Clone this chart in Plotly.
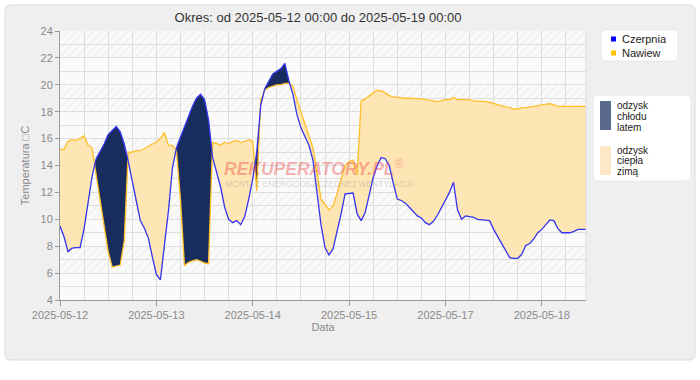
import plotly.graph_objects as go

# ---------------- data ----------------
tick_labels = ["2025-05-12", "2025-05-13", "2025-05-14", "2025-05-15", "2025-05-17", "2025-05-18"]
tick_index = [0, 24, 48, 72, 96, 120]

czerpnia = [
    9.5, 8.7, 7.6, 7.85, 7.9, 7.9, 9.3, 11.2, 13.2, 14.5,
    15.0, 15.6, 16.3, 16.6, 16.9, 16.5, 15.6, 14.3, 12.8, 11.2,
    9.9, 9.35, 8.6, 7.2, 5.9, 5.5, 8.1, 10.6, 13.8, 15.3,
    16.1, 16.9, 17.7, 18.4, 19.0, 19.3, 18.9, 17.4, 14.6, 13.5,
    12.4, 10.9, 10.0, 9.75, 9.9, 9.6, 10.2, 11.5, 13.0, 15.0,
    18.5, 19.7, 20.3, 20.8, 21.0, 21.2, 21.6, 20.3, 19.3, 17.8,
    16.8, 16.2, 15.5, 14.4, 12.0, 9.6, 7.9, 7.35, 7.8, 9.0,
    10.4, 11.9, 11.95, 11.95, 10.4, 9.9, 10.5, 11.8, 13.1, 14.0,
    14.6, 14.5, 14.0, 12.7, 11.5, 11.4, 11.2, 10.9, 10.55, 10.25,
    10.1, 9.75, 9.6, 9.85, 10.3, 10.9, 11.4, 12.0, 12.75, 10.7,
    10.0, 10.25, 10.2, 10.15, 10.0, 9.95, 9.95, 9.9, 9.25, 8.7,
    8.2, 7.6, 7.15, 7.1, 7.1, 7.4, 8.05, 8.2, 8.55, 9.0,
    9.25, 9.6, 9.95, 9.9, 9.3, 9.0, 9.0, 9.0, 9.1, 9.25,
    9.25, 9.25,
]

nawiew = [
    15.2, 15.2, 15.8, 15.9, 15.85, 16.0, 16.2, 15.5, 15.3, 13.3,
    11.5, 9.5, 7.6, 6.45, 6.5, 6.6, 8.4, 15.0, 15.0, 15.1,
    15.1, 15.25, 15.45, 15.6, 15.75, 16.0, 16.45, 15.5, 15.5, 15.1,
    11.5, 6.55, 6.8, 6.9, 7.0, 6.9, 6.75, 6.7, 15.7, 15.65,
    15.5, 15.75, 15.6, 15.8, 15.85, 15.7, 15.8, 15.9, 15.8, 12.1,
    18.9, 19.6, 19.8, 19.9, 20.0, 20.0, 20.1, 20.1, 19.9, 18.9,
    18.0, 17.1, 16.3, 15.3, 13.5, 11.5, 11.1, 10.7, 11.0, 11.9,
    13.0, 14.0, 14.3, 14.4, 13.3, 18.8, 18.95, 19.2, 19.4, 19.6,
    19.55, 19.4, 19.2, 19.1, 19.05, 19.0, 19.0, 19.0, 19.0, 19.0,
    18.95, 18.9, 18.85, 18.85, 18.75, 18.8, 18.9, 18.9, 19.05, 18.9,
    18.9, 18.9, 18.9, 18.8, 18.8, 18.8, 18.75, 18.7, 18.6, 18.5,
    18.4, 18.35, 18.3, 18.2, 18.2, 18.3, 18.3, 18.35, 18.35, 18.45,
    18.5, 18.55, 18.6, 18.5, 18.4, 18.4, 18.4, 18.4, 18.4, 18.4,
    18.4, 18.4,
]

x = list(range(len(czerpnia)))
Y_MIN, Y_MAX = 4, 24
X_MAX = x[-1]

# ---------------- layout geometry ----------------
W_FIG, H_FIG = 700, 380
L, R, T, B = 60, 114, 31, 80
PW, PH = W_FIG - L - R, H_FIG - T - B

def PX(px):
    return (px - L) / PW

def PY(py):
    return (T + PH - py) / PH

def rrect(x0, y0, x1, y1, r):
    return (f"M {PX(x0+r)},{PY(y0)} L {PX(x1-r)},{PY(y0)} Q {PX(x1)},{PY(y0)} {PX(x1)},{PY(y0+r)} "
            f"L {PX(x1)},{PY(y1-r)} Q {PX(x1)},{PY(y1)} {PX(x1-r)},{PY(y1)} "
            f"L {PX(x0+r)},{PY(y1)} Q {PX(x0)},{PY(y1)} {PX(x0)},{PY(y1-r)} "
            f"L {PX(x0)},{PY(y0+r)} Q {PX(x0)},{PY(y0)} {PX(x0+r)},{PY(y0)} Z")

# ---------------- crossings for two-colour fill ----------------
def with_crossings(xv, a, b):
    xs, aa, bb = [xv[0]], [a[0]], [b[0]]
    for k in range(1, len(xv)):
        d0 = a[k-1] - b[k-1]
        d1 = a[k] - b[k]
        if d0 * d1 < 0:
            t = d0 / (d0 - d1)
            xc = xv[k-1] + t * (xv[k] - xv[k-1])
            yc = a[k-1] + t * (a[k] - a[k-1])
            xs.append(xc); aa.append(yc); bb.append(yc)
        xs.append(xv[k]); aa.append(a[k]); bb.append(b[k])
    return xs, aa, bb

xc, cz_c, nw_c = with_crossings(x, czerpnia, nawiew)
lo = [min(p, q) for p, q in zip(cz_c, nw_c)]

BLUE = "#3434ee"
ORANGE = "#ffbf2a"
NAVY = "#182c5e"
PEACH = "#fde5b4"
FONT = "Liberation Sans, Arial, sans-serif"

fig = go.Figure()

# hatched background bands (every other 2-degree band)
bx, by = [], []
for y0 in range(Y_MAX - 2, Y_MIN, -4):
    bx += [0, X_MAX, X_MAX, 0, 0, None]
    by += [y0, y0, y0 + 2, y0 + 2, y0, None]
fig.add_trace(go.Scatter(
    x=bx, y=by, mode="none", fill="toself", showlegend=False, hoverinfo="skip",
    fillcolor="rgba(0,0,0,0)",
    fillpattern=dict(shape="/", fgcolor="#e3e3e3", bgcolor="rgba(0,0,0,0)", size=6, solidity=0.2),
))

# orange fill: nawiew above czerpnia
fig.add_trace(go.Scatter(x=xc, y=lo, mode="lines", line=dict(width=0), showlegend=False, hoverinfo="skip"))
fig.add_trace(go.Scatter(x=xc, y=nw_c, mode="lines", line=dict(width=0), fill="tonexty",
                         fillcolor=PEACH, showlegend=False, hoverinfo="skip"))
# navy fill: czerpnia above nawiew
fig.add_trace(go.Scatter(x=xc, y=lo, mode="lines", line=dict(width=0), showlegend=False, hoverinfo="skip"))
fig.add_trace(go.Scatter(x=xc, y=cz_c, mode="lines", line=dict(width=0), fill="tonexty",
                         fillcolor=NAVY, showlegend=False, hoverinfo="skip"))

# lines
fig.add_trace(go.Scatter(x=x, y=nawiew, mode="lines", name="Nawiew",
                         line=dict(color=ORANGE, width=1.3), showlegend=False))
fig.add_trace(go.Scatter(x=x, y=czerpnia, mode="lines", name="Czerpnia",
                         line=dict(color=BLUE, width=1.3), showlegend=False))

shapes = [
    dict(type="path", xref="paper", yref="paper", path=rrect(5, 5, 695, 360, 6),
         fillcolor="#efefef", line=dict(color="#dadada", width=1), layer="below"),
    dict(type="rect", xref="paper", yref="paper", x0=0, x1=1, y0=0, y1=1,
         fillcolor="#fafafa", line=dict(width=0), layer="below"),
    dict(type="line", xref="paper", yref="paper", x0=1, x1=1, y0=0, y1=1,
         line=dict(color="#dcdcdc", width=1)),
    # legend boxes
    dict(type="path", xref="paper", yref="paper", path=rrect(601, 30, 678, 61, 6),
         fillcolor="white", line=dict(color="#e4e4e4", width=0.8)),
    dict(type="path", xref="paper", yref="paper", path=rrect(593, 95, 691, 181, 6),
         fillcolor="white", line=dict(color="#e4e4e4", width=0.8)),
    # legend markers
    dict(type="rect", xref="paper", yref="paper", x0=PX(611), x1=PX(616), y0=PY(41.5), y1=PY(36.5),
         fillcolor="#0000ff", line=dict(width=0)),
    dict(type="rect", xref="paper", yref="paper", x0=PX(611), x1=PX(616), y0=PY(55.5), y1=PY(50.5),
         fillcolor="#ffc000", line=dict(width=0)),
    dict(type="rect", xref="paper", yref="paper", x0=PX(600), x1=PX(611), y0=PY(130), y1=PY(101),
         fillcolor="#5a6a8f", line=dict(width=0)),
    dict(type="rect", xref="paper", yref="paper", x0=PX(600), x1=PX(611), y0=PY(175), y1=PY(146),
         fillcolor="#fde9c6", line=dict(width=0)),
]

def ann(text, px, py, size, color="#222", anchor="left"):
    return dict(text=text, xref="paper", yref="paper", x=PX(px), y=PY(py), xanchor=anchor,
                yanchor="middle", showarrow=False, borderpad=0,
                font=dict(family=FONT, size=size, color=color))

annotations = [
    ann("<b><i>REKUPERATORY.PL</i></b><sup>®</sup>", 223, 168, 17.5, "rgba(235,60,60,0.38)"),
    ann("MONTAŻ ENERGOOSZCZĘDNEJ WENTYLACJI", 224, 184, 8.5, "rgba(140,140,140,0.35)"),
    ann("Czerpnia", 621, 39, 11),
    ann("Nawiew", 621, 53, 11),
    ann("odzysk", 616, 105, 10),
    ann("chłodu", 616, 116, 10),
    ann("latem", 616, 127, 10),
    ann("odzysk", 616, 150, 10),
    ann("ciepła", 616, 160.5, 10),
    ann("zimą", 616, 171, 10),
]

GRID = "#dedede"
AX = "#9a9a9a"
TXT = "#8a8a8a"

fig.update_layout(
    width=W_FIG, height=H_FIG, autosize=False,
    margin=dict(l=L, r=R, t=T, b=B),
    paper_bgcolor="white", plot_bgcolor="rgba(0,0,0,0)",
    font=dict(family=FONT, size=11, color=TXT),
    title=dict(text="Okres: od 2025-05-12 00:00 do 2025-05-19 00:00", x=318 / W_FIG, xanchor="center",
               xref="container", y=1 - 17 / H_FIG, yanchor="middle", yref="container",
               font=dict(family=FONT, size=13, color="#333333")),
    shapes=shapes, annotations=annotations, showlegend=False,
    xaxis=dict(range=[0, X_MAX], tickmode="array", tickvals=tick_index, ticktext=tick_labels,
               showline=True, linecolor=AX, linewidth=1, ticks="outside", ticklen=5, tickcolor=AX,
               tickfont=dict(size=11, color=TXT), showgrid=True, gridcolor=GRID, gridwidth=1,
               zeroline=False,
               minor=dict(tickmode="linear", tick0=0, dtick=6, showgrid=True, gridcolor=GRID, ticks=""),
               title=dict(text="Data", font=dict(size=11, color=TXT), standoff=2)),
    yaxis=dict(range=[Y_MIN, Y_MAX], tickmode="linear", tick0=0, dtick=2,
               showline=True, linecolor=AX, linewidth=1, ticks="outside", ticklen=4, tickcolor=AX,
               tickfont=dict(size=11, color=TXT), showgrid=True, gridcolor=GRID, gridwidth=1,
               zeroline=False,
               minor=dict(tickmode="linear", tick0=0, dtick=1, showgrid=True, gridcolor=GRID, ticks=""),
               title=dict(text="Temperatura \u25a1C", font=dict(size=11, color=TXT), standoff=8)),
)

fig.write_html("out.html", config={"displayModeBar": False},
               post_script="document.body.style.margin='0';")
